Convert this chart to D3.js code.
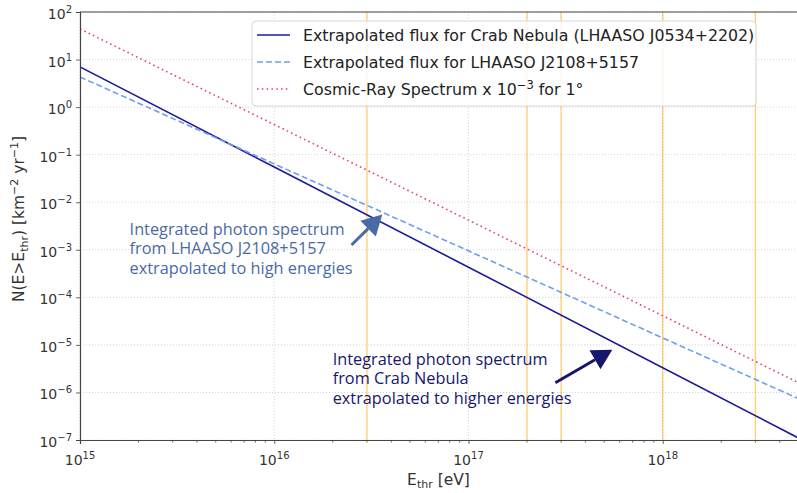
<!DOCTYPE html>
<html>
<head>
<meta charset="utf-8">
<script src="https://cdn.jsdelivr.net/npm/d3@7"></script>
<style>
  body { margin: 0; background: #fff; }
  svg text { font-family: "DejaVu Sans", sans-serif; }
</style>
</head>
<body>
<div id="chart"></div>
<script>
// energies read at decades and the right edge [eV]
var energies = [1e15, 1e16, 1e17, 1e18, 5e18];
// integral fluxes N(E>Ethr) [km^-2 yr^-1]
var crabFlux = [7.0, 0.055, 4.3e-4, 3.3e-6, 1.1e-7];
var j2108Flux = [4.3, 0.064, 9.5e-4, 1.4e-5, 7.4e-7];
var cosmicFlux = [44, 0.43, 4.2e-3, 4.1e-5, 1.6e-6];

var seriesNames = ["Extrapolated flux for Crab Nebula (LHAASO J0534+2202)",
                   "Extrapolated flux for LHAASO J2108+5157",
                   "Cosmic-Ray Spectrum x 10"];
var vLines = [3e16, 2e17, 3e17, 1e18, 3e18];
var xTicks = [1e15, 1e16, 1e17, 1e18];
var yTicks = [1e-7, 1e-6, 1e-5, 1e-4, 1e-3, 1e-2, 1e-1, 1e0, 1e1, 1e2];

var notes = [
  {lines: ["Integrated photon spectrum", "from LHAASO J2108+5157", "extrapolated to high energies"],
   textAt: [1.8e15, 2.07e-3], tail: [2.5e16, 1.26e-3], tip: [3.6e16, 5.5e-3], color: "#4a6aa5"},
  {lines: ["Integrated photon spectrum", "from Crab Nebula", "extrapolated to higher energies"],
   textAt: [2.0e16, 3.84e-6], tail: [2.8e17, 1.6e-6], tip: [5.5e17, 7.9e-6], color: "#16166e"}
];

var margin = {top: 12, right: 0, bottom: 53, left: 80};
var full_w = 797, full_h = 493;
var width = full_w - margin.left - margin.right;
var height = full_h - margin.top - margin.bottom;

var svg = d3.select("#chart").append("svg")
  .attr("width", full_w).attr("height", full_h);
var g = svg.append("g").attr("transform", "translate(" + margin.left + "," + margin.top + ")");

var x = d3.scaleLog().domain([1e15, 5e18]).range([0, width + 1.5]);
var y = d3.scaleLog().domain([1e-7, 1e2]).range([height, 0]);

function expOf(v) { return Math.round(Math.log10(v)); }

// grid
g.selectAll(".gy").data(yTicks).enter().append("line")
  .attr("x1", 0).attr("x2", width).attr("y1", d => y(d)).attr("y2", d => y(d))
  .attr("stroke", "#c8c8c8").attr("stroke-width", 0.8).attr("stroke-dasharray", "1,2");
g.selectAll(".gx").data(xTicks).enter().append("line")
  .attr("x1", d => x(d)).attr("x2", d => x(d)).attr("y1", 0).attr("y2", height)
  .attr("stroke", "#c8c8c8").attr("stroke-width", 0.8).attr("stroke-dasharray", "1,2");

// orange lines
g.selectAll(".vl").data(vLines).enter().append("line")
  .attr("x1", d => x(d)).attr("x2", d => x(d)).attr("y1", 0).attr("y2", height)
  .attr("stroke", "#ffa500").attr("stroke-opacity", 0.5).attr("stroke-width", 1.5);

// series
var line = d3.line().x(d => x(d[0])).y(d => y(d[1]));
var series = [
  {vals: crabFlux, color: "#1c1c9c", dash: null, w: 1.6},
  {vals: j2108Flux, color: "#6f9fec", dash: "6,3", w: 1.6},
  {vals: cosmicFlux, color: "#e0409a", dash: "1.6,3.2", w: 1.6}
];
var clip = g.append("clipPath").attr("id", "clip").append("rect")
  .attr("width", width + 2).attr("height", height);
series.forEach(function(s) {
  g.append("path")
    .datum(energies.map((e, i) => [e, s.vals[i]]))
    .attr("clip-path", "url(#clip)")
    .attr("fill", "none").attr("stroke", s.color).attr("stroke-width", s.w)
    .attr("stroke-dasharray", s.dash)
    .attr("d", line);
});

// axes
var axisColor = "#444";
var xAxis = d3.axisBottom(x).tickValues(xTicks).tickSize(4).tickFormat("");
var gx = g.append("g").attr("transform", "translate(0," + height + ")").call(xAxis);
var minor = [];
[1e15, 1e16, 1e17, 1e18].forEach(function(dec) {
  for (var k = 2; k <= 9; k++) if (dec * k <= 5e18) minor.push(dec * k);
});
gx.selectAll(".mtick").data(minor).enter().append("line")
  .attr("x1", d => x(d)).attr("x2", d => x(d)).attr("y1", 0).attr("y2", 2.5)
  .attr("stroke", axisColor).attr("stroke-width", 0.8);
gx.selectAll(".tl").data(xTicks).enter().append("text")
  .attr("x", d => x(d)).attr("y", 25).attr("text-anchor", "middle")
  .attr("fill", "#333").attr("font-size", 14)
  .each(function(d) {
    var t = d3.select(this);
    t.append("tspan").text("10");
    t.append("tspan").attr("dy", -6).attr("font-size", 10).text(expOf(d));
  });

var yAxis = d3.axisLeft(y).tickValues(yTicks).tickSize(4).tickFormat("");
var gy = g.append("g").call(yAxis);
gy.selectAll(".tl").data(yTicks).enter().append("text")
  .attr("x", -8).attr("y", d => y(d) + 7).attr("text-anchor", "end")
  .attr("fill", "#333").attr("font-size", 14)
  .each(function(d) {
    var t = d3.select(this);
    t.append("tspan").text("10");
    var e = expOf(d);
    t.append("tspan").attr("dy", -6).attr("font-size", 10).text(e < 0 ? "\u2212" + (-e) : e);
  });
[gx, gy].forEach(function(a) {
  a.select(".domain").attr("stroke", axisColor).attr("stroke-width", 1.2);
  a.selectAll(".tick line").attr("stroke", axisColor).attr("stroke-width", 0.8);
});
g.append("line").attr("x1", 0).attr("x2", width).attr("y1", 0).attr("y2", 0)
  .attr("stroke", axisColor).attr("stroke-width", 1.2);

// axis labels
var xl = svg.append("text").attr("x", margin.left + width / 2).attr("y", 485)
  .attr("text-anchor", "middle").attr("fill", "#333").attr("font-size", 15.5);
xl.append("tspan").text("E");
xl.append("tspan").attr("dy", 3).attr("font-size", 11).text("thr");
xl.append("tspan").attr("dy", -3).text(" [eV]");

var yl = svg.append("text").attr("transform", "translate(24,219) rotate(-90)")
  .attr("text-anchor", "middle").attr("fill", "#333").attr("font-size", 15.5);
yl.append("tspan").text("N(E>E");
yl.append("tspan").attr("dy", 4).attr("font-size", 11).text("thr");
yl.append("tspan").attr("dy", -4).text(") [km");
yl.append("tspan").attr("dy", -6).attr("font-size", 11).text("\u22122");
yl.append("tspan").attr("dy", 6).text(" yr");
yl.append("tspan").attr("dy", -6).attr("font-size", 11).text("\u22121");
yl.append("tspan").attr("dy", 6).text("]");

// annotations
notes.forEach(function(n) {
  var t = g.append("text").attr("x", x(n.textAt[0])).attr("y", y(n.textAt[1]))
    .attr("fill", n.color).attr("font-size", 16.3).style("font-family", "'Open Sans', sans-serif");
  n.lines.forEach(function(s, i) {
    t.append("tspan").attr("x", x(n.textAt[0])).attr("dy", i === 0 ? 0 : 19.7).text(s);
  });
  var x0 = x(n.tail[0]), y0 = y(n.tail[1]), x1 = x(n.tip[0]), y1 = y(n.tip[1]);
  var ang = Math.atan2(y1 - y0, x1 - x0);
  var hl = 20, hw = 11;
  var bx = x1 - hl * Math.cos(ang), by = y1 - hl * Math.sin(ang);
  g.append("line").attr("x1", x0).attr("y1", y0).attr("x2", bx).attr("y2", by)
    .attr("stroke", n.color).attr("stroke-width", 3);
  var px = -Math.sin(ang), py = Math.cos(ang);
  g.append("path")
    .attr("d", "M" + x1 + "," + y1 + "L" + (bx + px * hw) + "," + (by + py * hw) +
      "L" + (bx - px * hw) + "," + (by - py * hw) + "Z")
    .attr("fill", n.color);
});

// legend
var lg = svg.append("g").attr("transform", "translate(252,21)");
lg.append("rect").attr("width", 504).attr("height", 85).attr("rx", 4)
  .attr("fill", "#fff").attr("fill-opacity", 0.85).attr("stroke", "#d8d8d8");
series.forEach(function(s, i) {
  var yy = 14 + i * 27;
  lg.append("line").attr("x1", 5).attr("x2", 38).attr("y1", yy).attr("y2", yy)
    .attr("stroke", s.color).attr("stroke-width", s.w).attr("stroke-dasharray", s.dash);
  var t = lg.append("text").attr("x", 51).attr("y", yy + 5.5).attr("fill", "#222").attr("font-size", 15.8);
  t.append("tspan").text(seriesNames[i]);
  if (i === 2) {
    t.append("tspan").attr("dy", -6).attr("font-size", 11.5).text("\u22123");
    t.append("tspan").attr("dy", 6).text(" for 1\u00b0");
  }
});
</script>
</body>
</html>
